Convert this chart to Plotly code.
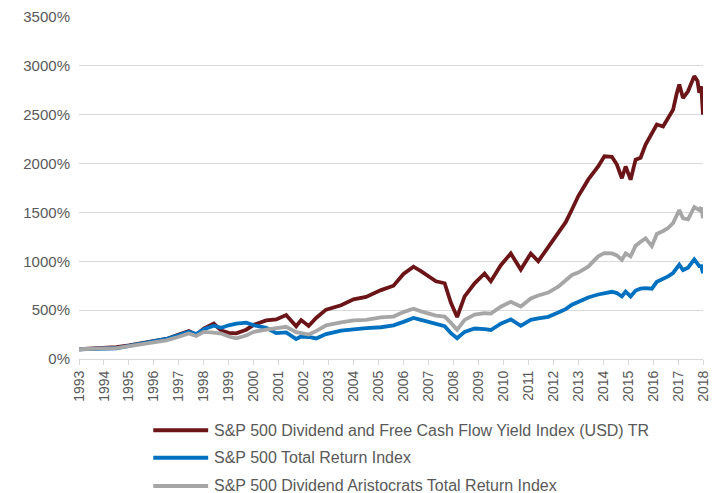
import plotly.graph_objects as go

years = [1993.0, 1993.5, 1994.0, 1994.5, 1995.0, 1995.5, 1996.0, 1996.5, 1997.0, 1997.4, 1997.7,
         1998.0, 1998.4, 1998.7, 1999.0, 1999.3, 1999.7, 2000.0, 2000.5, 2000.9, 2001.3, 2001.7,
         2001.9, 2002.2, 2002.5, 2002.9, 2003.5, 2004.0, 2004.5, 2005.1, 2005.6, 2006.0, 2006.4,
         2006.7, 2007.3, 2007.65, 2007.9, 2008.15, 2008.45, 2008.85, 2009.25, 2009.5, 2009.9,
         2010.3, 2010.7, 2011.1, 2011.4, 2011.8, 2012.2, 2012.5, 2012.75, 2013.0, 2013.4, 2013.8,
         2014.05, 2014.35, 2014.55, 2014.75, 2014.9, 2015.1, 2015.3, 2015.5, 2015.7, 2015.95,
         2016.15, 2016.4, 2016.6, 2016.8, 2016.95, 2017.05, 2017.2, 2017.4, 2017.65, 2017.78,
         2017.85, 2017.93, 2018.0]

dfcf = [100, 105, 118, 122, 140, 160, 183, 205, 250, 285, 248,
        312, 362, 290, 268, 262, 300, 350, 395, 405, 450, 335,
        398, 338, 420, 505, 550, 610, 635, 705, 750, 870, 945,
        900, 795, 775, 575, 430, 640, 775, 875, 795, 960,
        1080, 915, 1080, 1000, 1150, 1300, 1400, 1530, 1665, 1835, 1970,
        2075, 2070, 1990, 1850, 1970, 1835, 2040, 2060, 2195, 2315,
        2400, 2380, 2465, 2550, 2720, 2810, 2670, 2740, 2895, 2845,
        2725, 2790, 2500]

sp500 = [100, 103, 110, 110, 135, 160, 185, 205, 245, 280, 255,
         305, 340, 320, 345, 362, 372, 345, 318, 265, 272, 205,
         230, 225, 210, 255, 290, 305, 315, 325, 345, 380, 420,
         400, 360, 335, 265, 212, 278, 312, 305, 297, 362,
         405, 340, 400, 415, 432, 475, 510, 555, 585, 630, 660,
         672, 688, 675, 640, 690, 640, 700, 720, 725, 720,
         790, 815, 845, 880, 930, 965, 910, 935, 1020, 980,
         950, 950, 878]

aristocrats = [100, 100, 108, 112, 130, 150, 170, 190, 228, 262, 236,
               278, 270, 260, 230, 212, 240, 278, 300, 315, 330, 275,
               262, 250, 285, 345, 375, 395, 400, 425, 434, 480, 515,
               488, 445, 434, 370, 300, 400, 455, 470, 465, 535,
               585, 538, 620, 650, 680, 740, 810, 860, 885, 945, 1050,
               1083, 1080, 1060, 1015, 1080, 1050, 1160, 1200, 1235, 1155,
               1280, 1310, 1340, 1390, 1480, 1525, 1440, 1430, 1555, 1540,
               1525, 1550, 1440]

names = ["S&P 500 Dividend and Free Cash Flow Yield Index (USD) TR",
         "S&P 500 Total Return Index",
         "S&P 500 Dividend Aristocrats Total Return Index"]
colors = ["#6B1518", "#0070C0", "#A6A6A6"]

tick_years = list(range(1993, 2019))
y_ticks = [0, 500, 1000, 1500, 2000, 2500, 3000, 3500]

fig = go.Figure()
for name, vals, col in zip(names, [dfcf, sp500, aristocrats], colors):
    fig.add_trace(go.Scatter(x=years, y=vals, mode="lines", name=name,
                             line=dict(color=col, width=3.8)))

# custom legend (longer line keys, as in the reference)
leg_y = [-0.208, -0.289, -0.371]
for name, col, yy in zip(names, colors, leg_y):
    fig.add_shape(type="line", xref="paper", yref="paper", x0=0.119, x1=0.207,
                  y0=yy, y1=yy, line=dict(color=col, width=4))
    fig.add_annotation(xref="paper", yref="paper", x=0.213, y=yy, text=name,
                       showarrow=False, xanchor="left", yanchor="middle",
                       font=dict(size=16, color="#595959"))

fig.update_layout(
    width=712, height=485,
    margin=dict(l=71, r=17, t=9, b=134),
    paper_bgcolor="white", plot_bgcolor="white",
    font=dict(family="Liberation Sans, Arial, sans-serif", color="#595959", size=14),
    showlegend=False,
)
fig.update_xaxes(range=[1993, 2018], tickvals=tick_years,
                 ticktext=[str(y) for y in tick_years], tickangle=-90,
                 showgrid=False, zeroline=False, showline=True, linecolor="#D9D9D9",
                 linewidth=1, ticks="outside", ticklen=5, tickcolor="#D9D9D9",
                 tickfont=dict(size=14, color="#595959"), automargin=False)
fig.update_yaxes(range=[0, 3500], tickvals=y_ticks,
                 ticktext=[f"{v}%" for v in y_ticks],
                 showgrid=True, gridcolor="#D9D9D9", gridwidth=1, zeroline=False,
                 showline=False, ticks="", ticklabelstandoff=8,
                 tickfont=dict(size=15, color="#595959"), automargin=False)

fig.write_html("out.html")
